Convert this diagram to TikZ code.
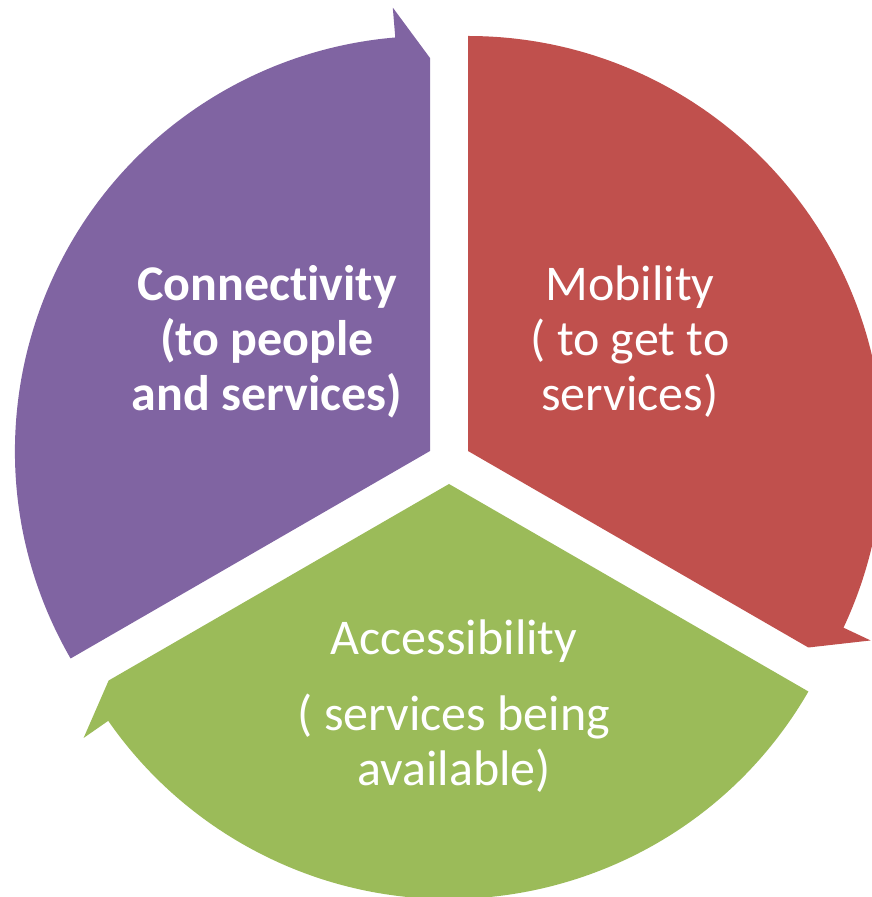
\documentclass[tikz,border=0pt]{standalone}
\usepackage{fontspec}
\setmainfont{Carlito}[Ligatures={NoCommon,NoRare,NoContextual}]
\definecolor{cpurple}{HTML}{8064A2}
\definecolor{cred}{HTML}{C0504D}
\definecolor{cgreen}{HTML}{9BBB59}
\begin{document}
\begin{tikzpicture}[x=1pt,y=1pt,
  seg/.style={draw=none},
  lbl/.style={text=white,align=center,inner sep=0pt,font=\fontsize{50}{55}\selectfont}]
\useasboundingbox (0,0) rectangle (872,897);
\coordinate (P) at (430,446);
\coordinate (R) at (468,446);
\coordinate (G) at (449,413);
% purple: clockwise from 210 to 90
\fill[seg,cpurple,shift={(P)}] (0,0) -- (210:415) arc[start angle=210,end angle=94.8,radius=415]
  -- (94.8:445) -- (90:393) -- cycle;
% red: clockwise from 90 to -30
\fill[seg,cred,shift={(R)}] (0,0) -- (90:415) arc[start angle=90,end angle=-25.2,radius=415]
  -- (-25.2:445) -- (-30:393) -- cycle;
% green: clockwise from -30 to -150
\fill[seg,cgreen,shift={(G)}] (0,0) -- (-30:415) arc[start angle=-30,end angle=-145.2,radius=415]
  -- (-145.2:445) -- (-150:393) -- cycle;
\node[lbl,font=\fontsize{50}{55}\selectfont\bfseries] (tc) at (267,555) {Connectivity\\(to people\\and services)};
\node[lbl] (tm) at (630,555) {Mobility\\( to get to\\services)};
\node[lbl] (ta) at (454,191) {Accessibility\\[21pt]( services being\\available)};
\end{tikzpicture}
\end{document}
